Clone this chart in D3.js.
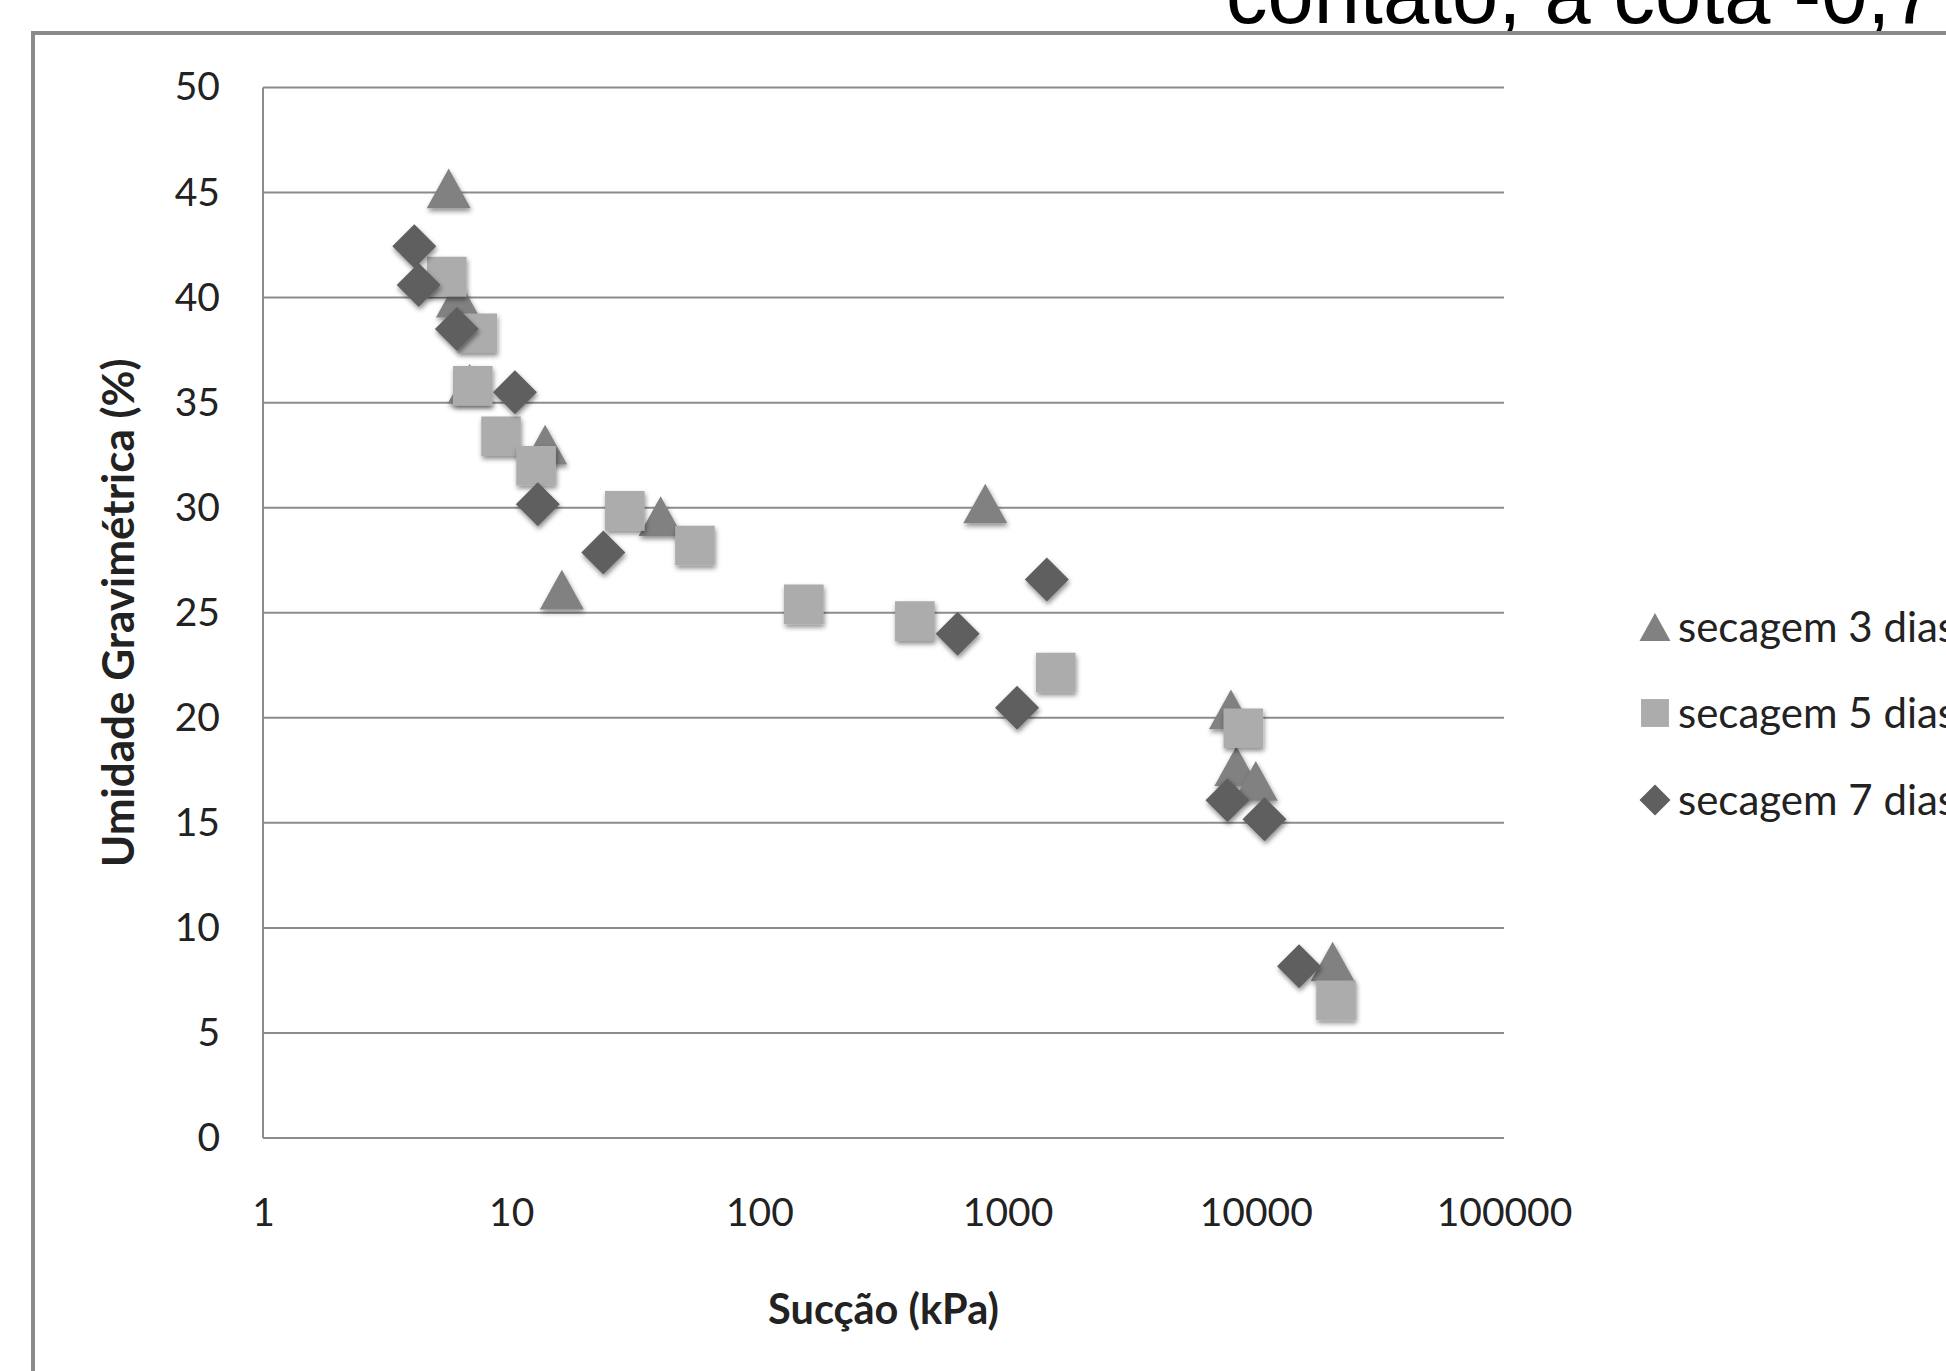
<!DOCTYPE html>
<html>
<head>
<meta charset="utf-8">
<script src="https://cdn.jsdelivr.net/npm/d3@7"></script>
<style>
	body { margin: 0; background: #fff; }
	svg { display: block; }
</style>
</head>
<body>
<svg id="chart" width="1946" height="1371"></svg>
<script>
// values (succao in kPa, umidade in %)
const succao3 = [5.6, 6.1, 6.8, 13.7, 16.0, 40, 813, 7940, 8350, 10000, 20400];
const umidade3 = [45.2, 40.0, 35.9, 33.0, 26.1, 29.6, 30.2, 20.4, 17.7, 17.0, 8.4];

const succao5 = [5.5, 7.3, 7.0, 9.1, 12.6, 28.7, 55, 151, 423, 1563, 8910, 21050];
const umidade5 = [41.0, 38.3, 35.8, 33.4, 32.0, 29.85, 28.2, 25.4, 24.6, 22.15, 19.5, 6.55];

const succao7 = [4.07, 4.24, 6.04, 10.35, 12.8, 23.5, 629, 1439, 1092, 7690, 10840, 14940];
const umidade7 = [42.45, 40.6, 38.5, 35.5, 30.17, 27.87, 24.0, 26.58, 20.48, 16.07, 15.17, 8.18];

const seriesNames = ["secagem 3 dias", "secagem 5 dias", "secagem 7 dias"];
const xTicks = [1, 10, 100, 1000, 10000, 100000];
const yTicks = [0, 5, 10, 15, 20, 25, 30, 35, 40, 45, 50];

const svg = d3.select("#chart");

// drop shadow like the office chart markers
svg.append("defs")
	.append("filter")
	.attr("id", "shadow")
	.attr("x", "-50%").attr("y", "-50%")
	.attr("width", "200%").attr("height", "200%")
	.append("feDropShadow")
	.attr("dx", 1)
	.attr("dy", 3)
	.attr("stdDeviation", 2.5)
	.attr("flood-color", "#000")
	.attr("flood-opacity", 0.45);

// page caption, cut by the top edge
svg.append("text")
	.attr("x", 1226)
	.attr("y", 23)
	.style("font-family", "'Liberation Sans', Arial, sans-serif")
	.style("font-size", "83px")
	.attr("fill", "#000")
	.text("contato, à cota -0,7 m");

// chart frame (runs off the right and bottom edges)
svg.append("rect")
	.attr("x", 33)
	.attr("y", 33)
	.attr("width", 2100)
	.attr("height", 1500)
	.attr("fill", "none")
	.attr("stroke", "#8a8a8a")
	.attr("stroke-width", 4);

const x = d3.scaleLog().domain([1, 100000]).range([263, 1504]);
const y = d3.scaleLinear().domain([0, 50]).range([1138, 87.5]);

// gridlines
svg.append("g")
	.selectAll("line")
	.data(yTicks)
	.enter().append("line")
	.attr("x1", x(1))
	.attr("x2", x(100000))
	.attr("y1", (d) => y(d))
	.attr("y2", (d) => y(d))
	.attr("stroke", "#8c8c8c")
	.attr("stroke-width", 2);

// vertical axis line
svg.append("line")
	.attr("x1", x(1)).attr("x2", x(1))
	.attr("y1", y(0)).attr("y2", y(50))
	.attr("stroke", "#8c8c8c")
	.attr("stroke-width", 2);

const tickFont = "Lato, 'Open Sans', sans-serif";

// y tick labels
const yAxis = d3.axisLeft(y).tickValues(yTicks).tickSize(0).tickPadding(43);
svg.append("g")
	.attr("transform", `translate(${x(1)},0)`)
	.call(yAxis)
	.call((g) => g.select(".domain").remove())
	.selectAll("text")
	.style("font-family", tickFont)
	.style("font-size", "39px")
	.attr("fill", "#222");

// x tick labels
const xAxis = d3.axisBottom(x).tickValues(xTicks).tickSize(0).tickPadding(60)
	.tickFormat(d3.format("d"));
svg.append("g")
	.attr("transform", `translate(0,${y(0)})`)
	.call(xAxis)
	.call((g) => g.select(".domain").remove())
	.selectAll("text")
	.style("font-family", tickFont)
	.style("font-size", "39px")
	.attr("fill", "#222");

// axis titles
svg.append("text")
	.attr("transform", `translate(134,${(y(0) + y(50)) / 2}) rotate(-90)`)
	.attr("text-anchor", "middle")
	.style("font-family", tickFont)
	.style("font-weight", "bold")
	.style("font-size", "44px")
	.attr("fill", "#222")
	.text("Umidade Gravimétrica (%)");

svg.append("text")
	.attr("x", (x(1) + x(100000)) / 2)
	.attr("y", 1324)
	.attr("text-anchor", "middle")
	.style("font-family", tickFont)
	.style("font-weight", "bold")
	.style("font-size", "41.5px")
	.attr("fill", "#222")
	.text("Sucção (kPa)");

// marker shapes, centred on their bounding box
function shapePath(kind, s) {
	if (kind == "triangle") {
		return `M0,${-s * 0.45}L${s * 0.5},${s * 0.45}L${-s * 0.5},${s * 0.45}Z`;
	}
	else if (kind == "square") {
		let h = s * 0.45;
		return `M${-h},${-h}H${h}V${h}H${-h}Z`;
	}
	else {
		let h = s * 0.5;
		return `M0,${-h}L${h},0L0,${h}L${-h},0Z`;
	}
}

const series = [
	{ name: seriesNames[0], kind: "triangle", color: "#818181", xs: succao3, ys: umidade3 },
	{ name: seriesNames[1], kind: "square", color: "#acacac", xs: succao5, ys: umidade5 },
	{ name: seriesNames[2], kind: "diamond", color: "#5f5f5f", xs: succao7, ys: umidade7 },
];

series.forEach((s) => {
	let pts = s.xs.map((v, i) => ({ x: v, y: s.ys[i] }));
	svg.append("g")
		.selectAll("path")
		.data(pts)
		.enter().append("path")
		.attr("d", shapePath(s.kind, 44))
		.attr("transform", (d) => `translate(${x(d.x)},${y(d.y)})`)
		.attr("fill", s.color)
		.attr("filter", "url(#shadow)");
});

// legend
const legendY = [627, 713, 800];
const legend = svg.append("g");
series.forEach((s, i) => {
	legend.append("path")
		.attr("d", shapePath(s.kind, 31))
		.attr("transform", `translate(1655,${legendY[i]})`)
		.attr("fill", s.color);
	legend.append("text")
		.attr("x", 1678)
		.attr("y", legendY[i])
		.attr("dy", "0.36em")
		.style("font-family", tickFont)
		.style("font-size", "42px")
		.attr("fill", "#222")
		.text(s.name);
});
</script>
</body>
</html>
